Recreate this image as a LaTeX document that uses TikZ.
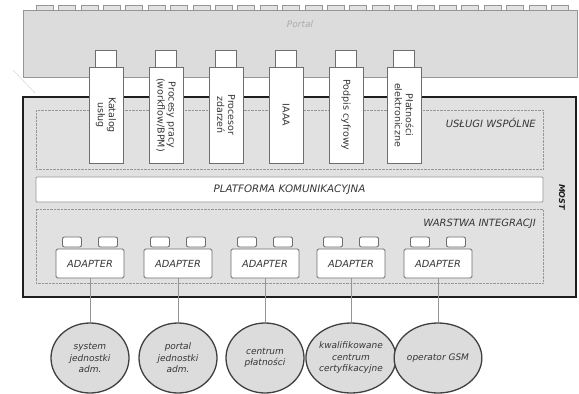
\documentclass[tikz,border=0pt]{standalone}
\usepackage{fontspec}
\setmainfont{DejaVu Sans}
\usepackage{tikz}
\usetikzlibrary{shapes.geometric}
\definecolor{portalgray}{RGB}{220, 220, 220}
\definecolor{mostgray}{RGB}{225, 225, 225}
\definecolor{edgegray}{RGB}{150, 150, 150}
\definecolor{boxedge}{RGB}{110, 110, 110}
\definecolor{textgray}{RGB}{55, 55, 55}
\definecolor{darkline}{RGB}{30, 30, 30}

\tikzset{
  svcbox/.style     = {draw=boxedge, fill=white, line width=0.8pt, rotate=-90, minimum width=96pt, minimum height=34pt,
                       inner sep=1pt, align=center, text=textgray, font={\fontsize{9.5}{11}\selectfont}},
  svctab/.style     = {draw=boxedge, fill=white, line width=0.8pt, minimum width=21pt, minimum height=17pt, inner sep=0pt},
  adapterbox/.style = {draw=boxedge, fill=white, line width=0.9pt, rounded corners=1.5pt, minimum width=68pt,
                       minimum height=29pt, inner sep=0pt, text=textgray, font={\fontsize{9.8}{11}\selectfont\itshape}},
  adaptertab/.style = {draw=boxedge, fill=white, line width=0.9pt, rounded corners=2pt, minimum width=19pt,
                       minimum height=10pt, inner sep=0pt},
  extsys/.style     = {ellipse, draw=darkline!85, fill=portalgray, line width=1.3pt, minimum width=78pt, minimum height=70pt,
                       inner sep=0pt, align=center, text=textgray, font={\fontsize{9}{11.5}\selectfont\itshape}},
  layerlbl/.style   = {anchor=east, inner sep=0pt, text=textgray, font={\fontsize{10}{12}\selectfont\itshape}},
  link/.style       = {draw=edgegray, line width=0.9pt},
}

\begin{document}
\begin{tikzpicture}[x=1pt, y=-1pt]
            \useasboundingbox (0,0) rectangle (579,394);
            % portal
            \foreach \i in {0,...,23}
                \filldraw[draw=edgegray, fill=portalgray!80!white] ({36+22.4*\i}, 5) rectangle ({53+22.4*\i}, 10);
            \filldraw[draw=edgegray,  fill=portalgray]              (23, 10) rectangle (577, 77);
            \node[text=edgegray!80, font={\fontsize{9}{10}\selectfont\itshape}] (portal) at (300, 24) {Portal};
            \draw[edgegray!45]                                      (13, 70) -- (35, 93);
            % most
            \filldraw[draw=darkline,  fill=mostgray, line width=2.2pt] (23, 97) rectangle (576, 297);
            \draw[edgegray, densely dotted]                          (36,110) rectangle (543, 169);
            \draw[edgegray, densely dotted]                          (36,209) rectangle (543, 283);
            \node[layerlbl] (uslugi)  at (536, 123) {USŁUGI WSPÓLNE};
            \node[layerlbl] (warstwa) at (536, 224) {WARSTWA INTEGRACJI};
            \node[draw=edgegray, fill=white, line width=0.9pt, rounded corners=1pt, minimum width=507pt, minimum height=25pt,
                  text=textgray, font={\fontsize{10.3}{12}\selectfont\itshape}] (platforma) at (289.5, 189.5) {PLATFORMA KOMUNIKACYJNA};
            \node[rotate=-90, inner sep=0pt, text=darkline, font={\fontsize{8}{9}\selectfont\bfseries\itshape}] (most) at (562, 197) {MOST};
            % uslugi wspolne
            \node[svctab] (katalogtab)   at (106, 58.5) {};
            \node[svctab] (procesytab)   at (166, 58.5) {};
            \node[svctab] (procesortab)  at (226, 58.5) {};
            \node[svctab] (iaaatab)      at (286, 58.5) {};
            \node[svctab] (podpistab)    at (346, 58.5) {};
            \node[svctab] (platnoscitab) at (404, 58.5) {};
            \node[svcbox] (katalog)   at (106, 115) {Katalog\\usług};
            \node[svcbox] (procesy)   at (166, 115) {Procesy pracy\\(workflow/BPM)};
            \node[svcbox] (procesor)  at (226, 115) {Procesor\\zdarzeń};
            \node[svcbox] (iaaa)      at (286, 115) {IAAA};
            \node[svcbox] (podpis)    at (346, 115) {Podpis cyfrowy};
            \node[svcbox] (platnosci) at (404, 115) {Płatności\\elektroniczne};
            % warstwa integracji
            \node[adaptertab] (adaptAl) at ( 72, 242) {};  \node[adaptertab] (adaptAr) at (108, 242) {};
            \node[adaptertab] (adaptBl) at (160, 242) {};  \node[adaptertab] (adaptBr) at (196, 242) {};
            \node[adaptertab] (adaptCl) at (247, 242) {};  \node[adaptertab] (adaptCr) at (283, 242) {};
            \node[adaptertab] (adaptDl) at (333, 242) {};  \node[adaptertab] (adaptDr) at (369, 242) {};
            \node[adaptertab] (adaptEl) at (420, 242) {};  \node[adaptertab] (adaptEr) at (456, 242) {};
            \node[adapterbox] (adaptA) at ( 90, 263.5) {ADAPTER};
            \node[adapterbox] (adaptB) at (178, 263.5) {ADAPTER};
            \node[adapterbox] (adaptC) at (265, 263.5) {ADAPTER};
            \node[adapterbox] (adaptD) at (351, 263.5) {ADAPTER};
            \node[adapterbox] (adaptE) at (438, 263.5) {ADAPTER};
            % systemy zewnetrzne
            \node[extsys] (sysjedn)    at ( 90, 358) {system\\jednostki\\adm.};
            \node[extsys] (portaljedn) at (178, 358) {portal\\jednostki\\adm.};
            \node[extsys] (centrum)    at (265, 358) {centrum\\płatności};
            \node[extsys] (kwalif)     at (351, 358) {kwalifikowane\\centrum\\certyfikacyjne};
            \node[extsys] (gsm)        at (438, 358) {operator GSM};
            \draw[link] (adaptA) -- (sysjedn);
            \draw[link] (adaptB) -- (portaljedn);
            \draw[link] (adaptC) -- (centrum);
            \draw[link] (adaptD) -- (kwalif);
            \draw[link] (adaptE) -- (gsm);
        \end{tikzpicture}
\end{document}
